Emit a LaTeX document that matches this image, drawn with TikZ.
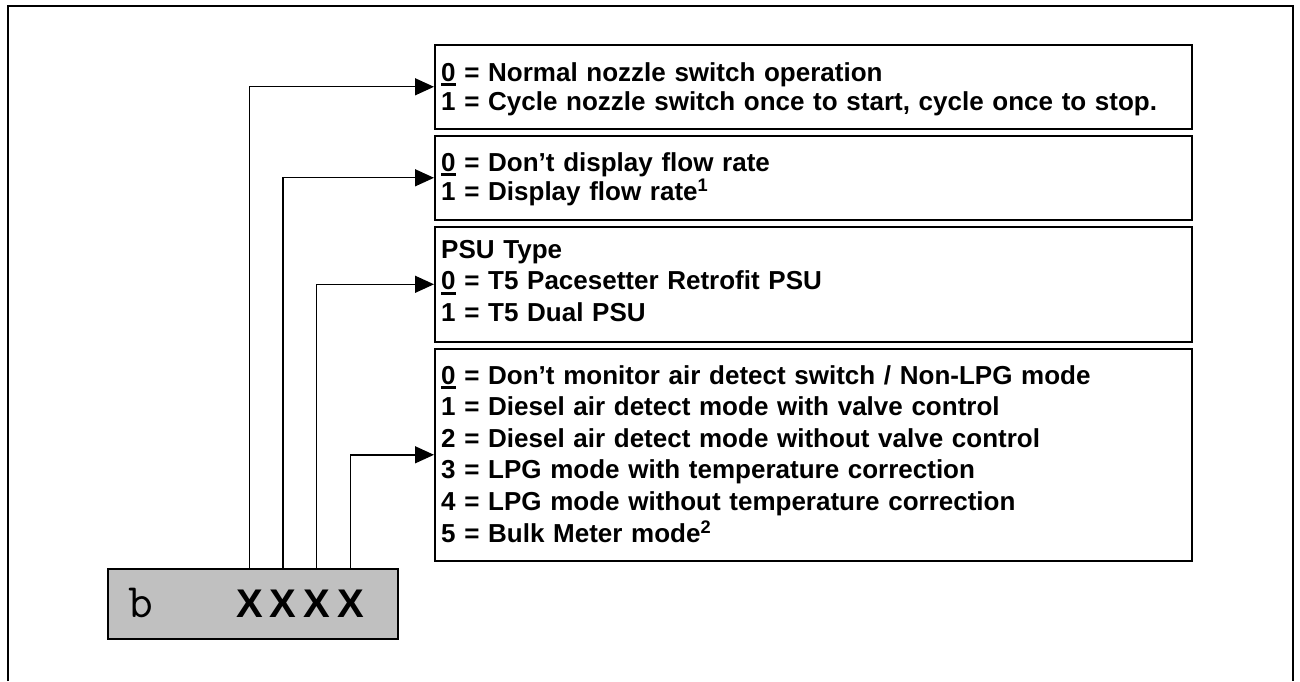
\documentclass[tikz,border=0pt]{standalone}
\usepackage{fontspec}
\setmainfont{Liberation Sans}
\usetikzlibrary{arrows.meta}
\definecolor{boxgray}{RGB}{192,192,192}
\newcommand\uzero{\leavevmode\setbox0\hbox{0}\rlap{\rule[-4.7pt]{\wd0}{2.6pt}}0}
\begin{document}
\begin{tikzpicture}[x=1pt,y=1pt,
  optbox/.style={draw, line width=1.6pt, anchor=north west, minimum width=757pt, inner sep=0pt},
  opttext/.style={anchor=north west, inner sep=0pt, text width=740pt, align=left},
  tight/.style={font=\bfseries\fontsize{26}{29}\selectfont},
  loose/.style={font=\bfseries\fontsize{26}{31.6}\selectfont},
  conn/.style={line width=1.4pt, -{Triangle[length=19pt,width=17pt]}},
  xch/.style={anchor=base, inner sep=0pt, font=\bfseries\fontsize{40}{40}\selectfont},
]
\useasboundingbox (0,0) rectangle (1300,681);
\draw[line width=1.5pt] (8,0) -- (8,675) -- (1293,675) -- (1293,0);

\node[optbox, minimum height=84pt] (o1) at (434,637) {};
\node[optbox, minimum height=84pt] (o2) at (434,546) {};
\node[optbox, minimum height=115pt] (o3) at (434,455) {};
\node[optbox, minimum height=212pt] (o4) at (434,333) {};

\node[opttext, tight] (t1) at (441,619)
  {\uzero{} = Normal nozzle switch operation\\1 = Cycle nozzle switch once to start, cycle once to stop.};
\node[opttext, tight] (t2) at (441,529)
  {\uzero{} = Don’t display flow rate\\1 = Display flow rate\textsuperscript{1}};
\node[opttext, loose] (t3) at (441,441)
  {PSU Type\\\uzero{} = T5 Pacesetter Retrofit PSU\\1 = T5 Dual PSU};
\node[opttext, loose] (t4) at (441,316)
  {\uzero{} = Don’t monitor air detect switch / Non-LPG mode\\
   1 = Diesel air detect mode with valve control\\
   2 = Diesel air detect mode without valve control\\
   3 = LPG mode with temperature correction\\
   4 = LPG mode without temperature correction\\
   5 = Bulk Meter mode\textsuperscript{2}};

\node[draw, line width=1.6pt, fill=boxgray, anchor=north west, minimum width=290pt,
  minimum height=70pt] (g) at (107,113) {};
\node[anchor=base west, inner sep=0pt, font=\ttfamily\fontsize{48}{48}\selectfont] (b) at (128,64) {b};
\node[xch] (x1) at (249.5,64) {X};
\node[xch] (x2) at (283,64) {X};
\node[xch] (x3) at (316.5,64) {X};
\node[xch] (x4) at (350.5,64) {X};

\draw[conn] (x1 |- g.north) |- (o1.west);
\draw[conn] (x2 |- g.north) |- (o2.west);
\draw[conn] (x3 |- g.north) |- (o3.west);
\draw[conn] (x4 |- g.north) |- (o4.west);
\end{tikzpicture}
\end{document}
